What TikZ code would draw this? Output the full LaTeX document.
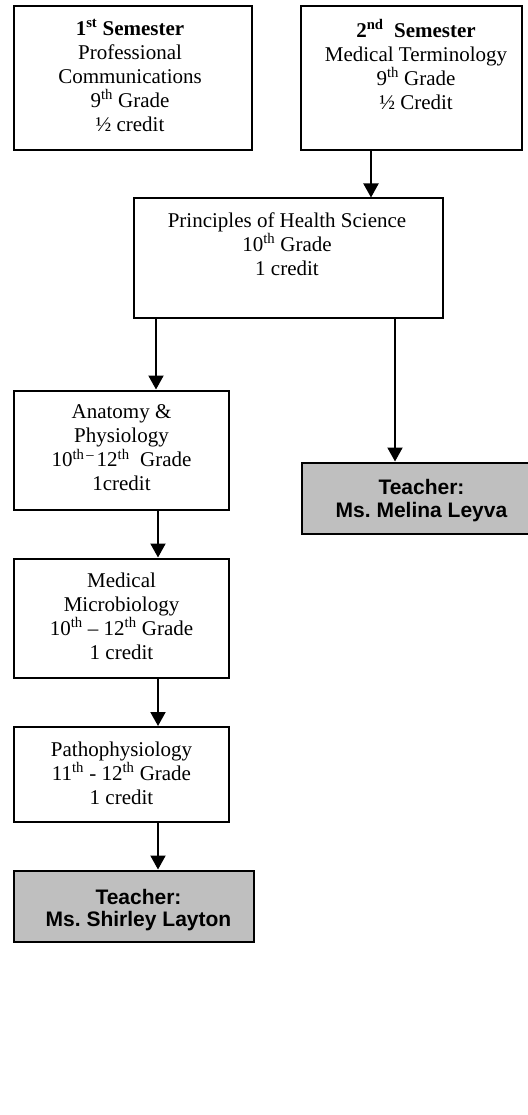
\documentclass[tikz,border=0pt]{standalone}
\usepackage{fontspec}
\setmainfont{Liberation Serif}
\newfontfamily\teacherfont{Liberation Sans}
\usetikzlibrary{arrows.meta}

\begin{document}
\begin{tikzpicture}[x=1pt,y=-1pt,
  box/.style={draw,line width=2pt,inner sep=0pt},
  teacher/.style={box,fill=black!25,minimum width=239pt,minimum height=71pt},
  txt/.style={anchor=north,align=center,inner sep=0pt,font=\fontsize{21}{24}\selectfont},
  ttxt/.style={anchor=north,align=center,inner sep=0pt,font=\teacherfont\bfseries\fontsize{21}{22.5}\selectfont},
  arr/.style={line width=2pt,-{Triangle[length=14pt,width=15pt]}}]

\useasboundingbox (0,0) rectangle (527,1115);

% 9th grade
\node[box,minimum width=238pt,minimum height=144pt] (sem1) at (132.5,78.5) {};
\node[box,minimum width=221pt,minimum height=144pt] (sem2) at (411,78.5) {};
\node[txt] at ([xshift=-2.5pt,yshift=-14pt]sem1.north)
  {\textbf{1\textsuperscript{st} Semester}\\Professional\\Communications\\9\textsuperscript{th} Grade\\½ credit};
\node[txt] at ([xshift=5pt,yshift=-14pt]sem2.north)
  {\textbf{2\textsuperscript{nd}\ \ Semester}\\Medical Terminology\\9\textsuperscript{th} Grade\\½ Credit};

% 10th grade
\node[box,minimum width=309pt,minimum height=119pt] (prin) at (288,258) {};
\node[txt] at ([xshift=-1pt,yshift=-15pt]prin.north)
  {Principles of Health Science\\10\textsuperscript{th} Grade\\1 credit};

% 10th - 12th grade
\node[box,minimum width=215pt,minimum height=119pt] (anat) at (121.5,450) {};
\node[box,minimum width=215pt,minimum height=119pt] (micro) at (121.5,618) {};
\node[box,minimum width=215pt,minimum height=95pt] (patho) at (121.5,774.5) {};
\node[txt] at ([yshift=-15pt]anat.north)
  {Anatomy \&\\Physiology\\10\textsuperscript{th\,–\,}12\textsuperscript{th}\ \ Grade\\1credit};
\node[txt] at ([yshift=-15pt]micro.north)
  {Medical\\Microbiology\\10\textsuperscript{th} – 12\textsuperscript{th} Grade\\1 credit};
\node[txt] at ([yshift=-15.5pt]patho.north)
  {Pathophysiology\\11\textsuperscript{th} - 12\textsuperscript{th} Grade\\1 credit};

% Teachers
\node[teacher] (leyva) at (421.5,498) {};
\node[teacher,minimum width=240pt] (layton) at (133.5,906) {};
\node[ttxt] at ([yshift=-18pt]leyva.north) {Teacher:\\Ms.\ Melina Leyva};
\node[ttxt] at ([xshift=5pt,yshift=-19.5pt]layton.north) {Teacher:\\Ms.\ Shirley Layton};

% Arrows
\coordinate (a1) at ([xshift=-40pt]sem2.south);
\coordinate (a2) at ([xshift=-132pt]prin.south);
\coordinate (a3) at ([xshift=107pt]prin.south);
\coordinate (a4) at ([xshift=36.5pt]anat.south);
\coordinate (a5) at ([xshift=36.5pt]micro.south);
\coordinate (a6) at ([xshift=36.5pt]patho.south);
\draw[arr] (a1) -- (a1 |- prin.north);
\draw[arr] (a2) -- (a2 |- anat.north);
\draw[arr] (a3) -- (a3 |- leyva.north);
\draw[arr] (a4) -- (a4 |- micro.north);
\draw[arr] (a5) -- (a5 |- patho.north);
\draw[arr] (a6) -- (a6 |- layton.north);

\end{tikzpicture}
\end{document}
